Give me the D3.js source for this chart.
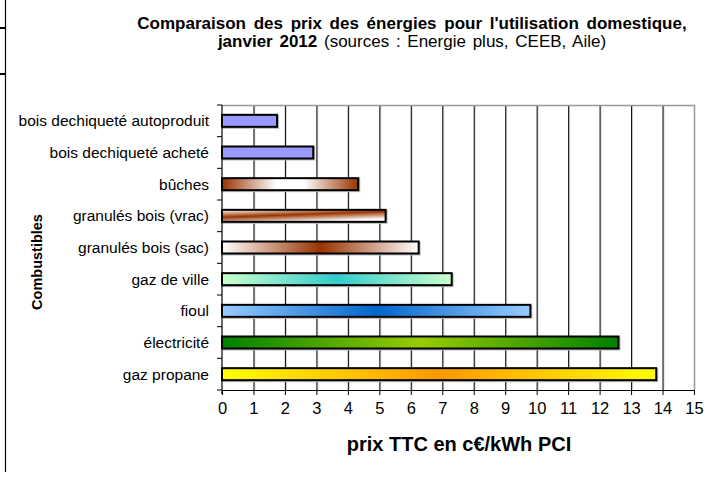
<!DOCTYPE html>
<html>
<head>
<meta charset="utf-8">
<script src="https://cdn.jsdelivr.net/npm/d3@7"></script>
<style>
  body { margin: 0; background: #fff; }
  svg { font-family: "Liberation Sans", Arial, sans-serif; }
</style>
</head>
<body>
<div id="chart"></div>
<script>
// data
const categories = [
    "bois dechiqueté autoproduit",
    "bois dechiqueté acheté",
    "bûches",
    "granulés bois (vrac)",
    "granulés bois (sac)",
    "gaz de ville",
    "fioul",
    "électricité",
    "gaz propane"
];
const prices = [1.75, 2.9, 4.33, 5.2, 6.25, 7.3, 9.8, 12.6, 13.8];
const xTicks = d3.range(0, 16);

// fills, one per bar: [edge colour, centre colour]
const fills = [
    ["#9999ff", "#9999ff"],
    ["#9999ff", "#9999ff"],
    ["#993300", "#ffffff"],
    ["diag", ""],
    ["#ffffff", "#993300"],
    ["#ccffcc", "#33cccc"],
    ["#99ccff", "#0066cc"],
    ["#008000", "#99cc00"],
    ["#ffff00", "#ff9900"]
];

const W = 716, H = 478;
const pLeft = 222, pRight = 694, pTop = 105, pBottom = 390;

const svg = d3.select("#chart").append("svg")
    .attr("width", W)
    .attr("height", H);

const defs = svg.append("defs");
fills.forEach((f, i) => {
    let g;
    if (f[0] === "diag") {
        g = defs.append("linearGradient").attr("id", "g" + i)
            .attr("x1", 0).attr("y1", 0).attr("x2", 0.5).attr("y2", 1);
        g.append("stop").attr("offset", "0").attr("stop-color", "#ffffff");
        g.append("stop").attr("offset", "0.5").attr("stop-color", "#993300");
        g.append("stop").attr("offset", "1").attr("stop-color", "#ffffff");
        return;
    }
    g = defs.append("linearGradient").attr("id", "g" + i)
        .attr("x1", 0).attr("y1", 0).attr("x2", 1).attr("y2", 0);
    // bûches: wider white centre
    const spread = i === 2 ? 0.1 : 0;
    g.append("stop").attr("offset", 0).attr("stop-color", f[0]);
    g.append("stop").attr("offset", 0.5 - spread).attr("stop-color", f[1]);
    g.append("stop").attr("offset", 0.5 + spread).attr("stop-color", f[1]);
    g.append("stop").attr("offset", 1).attr("stop-color", f[0]);
});

const x = d3.scaleLinear().domain([0, 15]).range([pLeft, pRight]);
const y = d3.scaleBand().domain(categories).range([pTop, pBottom]);

// left edge artefact of the screenshot
svg.append("line").attr("x1", 5.5).attr("x2", 5.5).attr("y1", 0).attr("y2", 472)
    .attr("stroke", "#000").attr("stroke-width", 1.2);
[28, 74].forEach(yy => {
    svg.append("line").attr("x1", 0).attr("x2", 6).attr("y1", yy).attr("y2", yy)
        .attr("stroke", "#000").attr("stroke-width", 2);
});

// grid
const inner = xTicks.filter(d => d > 0 && d < 15);
svg.append("g")
    .selectAll("line")
    .data(inner)
    .join("line")
    .attr("x1", d => x(d) + 1.5).attr("x2", d => x(d) + 1.5)
    .attr("y1", pTop).attr("y2", pBottom)
    .attr("stroke", "#d8d8d8").attr("stroke-width", 1);
svg.append("g")
    .selectAll("line")
    .data(inner)
    .join("line")
    .attr("x1", d => x(d) + 0.5).attr("x2", d => x(d) + 0.5)
    .attr("y1", pTop).attr("y2", pBottom)
    .attr("stroke", "#111").attr("stroke-width", 1.1);

// frame top / right
svg.append("path")
    .attr("d", `M${pLeft},${pTop + 0.5}H${pRight + 0.5}V${pBottom}`)
    .attr("fill", "none").attr("stroke", "#999").attr("stroke-width", 1.5);

// bars
const barH = 12;
svg.append("g")
    .selectAll("rect")
    .data(categories)
    .join("rect")
    .attr("x", x(0) + 1)
    .attr("y", d => y(d) + y.bandwidth() / 2 - barH / 2 + 1)
    .attr("width", (d, i) => x(prices[i]) - x(0))
    .attr("height", barH)
    .attr("fill", "none")
    .attr("stroke", "#bbb")
    .attr("stroke-width", 2);

svg.append("g")
    .selectAll("rect")
    .data(categories)
    .join("rect")
    .attr("x", x(0))
    .attr("y", d => y(d) + y.bandwidth() / 2 - barH / 2)
    .attr("width", (d, i) => x(prices[i]) - x(0))
    .attr("height", barH)
    .attr("fill", (d, i) => `url(#g${i})`)
    .attr("stroke", "#000")
    .attr("stroke-width", 2);

// y axis
const yAxis = svg.append("g")
    .attr("transform", `translate(${pLeft},0)`);
yAxis.append("line").attr("x1", 0).attr("x2", 0).attr("y1", pTop).attr("y2", pBottom + 4)
    .attr("stroke", "#000").attr("stroke-width", 1.2);
yAxis.selectAll("line.tick")
    .data(categories.map(c => y(c)).concat([pBottom]))
    .join("line")
    .attr("class", "tick")
    .attr("x1", -5).attr("x2", 0)
    .attr("y1", d => d).attr("y2", d => d)
    .attr("stroke", "#000");
yAxis.selectAll("text")
    .data(categories)
    .join("text")
    .attr("x", -13)
    .attr("y", d => y(d) + y.bandwidth() / 2)
    .attr("dy", "0.35em")
    .attr("text-anchor", "end")
    .style("font-size", "15.5px")
    .attr("fill", "#000")
    .text(d => d);

// x axis
const xAxis = svg.append("g")
    .attr("transform", `translate(0,${pBottom})`)
    .call(d3.axisBottom(x).tickValues(xTicks).tickSize(5).tickPadding(7).tickSizeOuter(0));
xAxis.select(".domain").attr("stroke", "#000").attr("stroke-width", 1.2);
xAxis.selectAll(".tick line").attr("stroke", "#000");
xAxis.selectAll(".tick text")
    .style("font-size", "16.5px")
    .style("font-family", "'Liberation Sans', Arial, sans-serif")
    .attr("fill", "#000");

// axis titles
svg.append("text")
    .attr("x", 459)
    .attr("y", 451)
    .attr("text-anchor", "middle")
    .style("font-size", "20px")
    .style("font-weight", "bold")
    .text("prix TTC en c€/kWh PCI");

svg.append("text")
    .attr("transform", "translate(42,262) rotate(-90)")
    .attr("text-anchor", "middle")
    .style("font-size", "14.5px")
    .style("font-weight", "bold")
    .text("Combustibles");

// title
svg.append("text")
    .attr("x", 412)
    .attr("y", 28.5)
    .attr("text-anchor", "middle")
    .style("font-size", "17px")
    .style("font-weight", "bold")
    .style("word-spacing", "3px")
    .text("Comparaison des prix des énergies pour l'utilisation domestique,");

const t2 = svg.append("text")
    .attr("x", 412)
    .attr("y", 46.5)
    .attr("text-anchor", "middle")
    .style("font-size", "17px")
    .style("word-spacing", "2px");
t2.append("tspan").style("font-weight", "bold").text("janvier 2012");
t2.append("tspan").text(" (sources : Energie plus, CEEB, Aile)");
</script>
</body>
</html>
